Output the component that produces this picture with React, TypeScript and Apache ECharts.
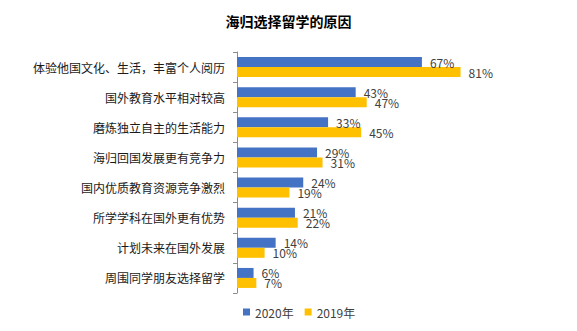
import React, { useEffect, useRef } from "react";
import * as echarts from "echarts";

const categories = [
  "体验他国文化、生活，丰富个人阅历",
  "国外教育水平相对较高",
  "磨炼独立自主的生活能力",
  "海归回国发展更有竞争力",
  "国内优质教育资源竞争激烈",
  "所学学科在国外更有优势",
  "计划未来在国外发展",
  "周围同学朋友选择留学",
];
const values2020 = [67, 43, 33, 29, 24, 21, 14, 6];
const values2019 = [81, 47, 45, 31, 19, 22, 10, 7];

const FONT = "'Noto Sans CJK SC', 'Noto Sans', sans-serif";

export default function App() {
  const ref = useRef<HTMLDivElement>(null);
  useEffect(() => {
    if (!ref.current) return;
    const chart = echarts.init(ref.current, undefined, { renderer: "svg" });
    const label = {
      show: true,
      position: "right" as const,
      distance: 8,
      formatter: "{c}%",
      color: "#404040",
      fontSize: 12,
      fontFamily: FONT,
    };
    chart.setOption({
      animation: false,
      backgroundColor: "#ffffff",
      title: {
        text: "海归选择留学的原因",
        left: "center",
        top: 9,
        textStyle: { fontSize: 14, fontWeight: "bold", color: "#000", fontFamily: FONT },
      },
      legend: {
        bottom: 8,
        left: 238,
        itemWidth: 7,
        itemHeight: 7,
        itemGap: 11,
        icon: "rect",
        textStyle: { fontSize: 12, color: "#404040", fontFamily: FONT },
        data: ["2020年", "2019年"],
      },
      grid: { left: 237, top: 52, right: 64, bottom: 38, containLabel: false },
      xAxis: {
        type: "value",
        min: 0,
        max: 100,
        show: false,
      },
      yAxis: {
        type: "category",
        inverse: true,
        data: categories,
        axisLine: { show: true, lineStyle: { color: "#8c8c8c" } },
        axisTick: { show: true, length: 4, lineStyle: { color: "#8c8c8c" } },
        axisLabel: { fontSize: 12, color: "#1a1a1a", margin: 12, fontFamily: FONT },
      },
      series: [
        {
          name: "2020年",
          type: "bar",
          data: values2020,
          barWidth: 10,
          barGap: "0%",
          itemStyle: { color: "#4472C4" },
          label,
        },
        {
          name: "2019年",
          type: "bar",
          data: values2019,
          barWidth: 10,
          barGap: "0%",
          itemStyle: { color: "#FFC000" },
          label,
        },
      ],
    });
    return () => chart.dispose();
  }, []);
  return (
    <div
      ref={ref}
      style={{ position: "fixed", left: 0, top: 0, width: 577, height: 331 }}
    />
  );
}
